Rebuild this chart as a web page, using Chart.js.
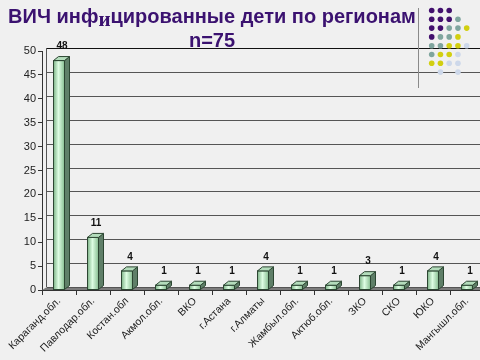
<!DOCTYPE html>
<html>
<head>
<meta charset="utf-8">
<script src="https://cdn.jsdelivr.net/npm/chart.js@4.4.0/dist/chart.umd.min.js"></script>
<style>
  html, body { margin: 0; padding: 0; background: #f0f0f0; overflow: hidden; }
  #wrap { position: relative; width: 480px; height: 360px; overflow: hidden; background: #f0f0f0; }
  #chart { position: absolute; left: 0; top: 0; }
  .title {
    position: absolute; left: 0; width: 424px; text-align: center; white-space: nowrap;
    font-family: "Liberation Sans", Arial, sans-serif; font-weight: bold; font-size: 20px;
    color: #3b1270; line-height: 24px; z-index: 2;
  }
  #t1 { top: 4px; }
  #t2 { top: 28px; }
  .title .odd { font-family: "Liberation Serif", serif; font-size: 21px; position: relative; top: 3px; }
</style>
</head>
<body>
<div id="wrap">
  <canvas id="chart" width="484" height="360"></canvas>
  <div class="title" id="t1">ВИЧ инф<span class="odd">и</span>цированные дети по регионам</div>
  <div class="title" id="t2">n=75</div>
</div>
<script>
const regions = [
  "Караганд.обл.", "Павлодар.обл.", "Костан.обл", "Акмол.обл.", "ВКО", "г.Астана",
  "г.Алматы", "Жамбыл.обл.", "Актюб.обл.", "ЗКО", "СКО", "ЮКО", "Мангышл.обл.",
];
const children = [48, 11, 4, 1, 1, 1, 4, 1, 1, 3, 1, 4, 1];
const yMax = 50;
const yStep = 5;

const DX = 5; // 3d depth to the right
const DY = -4; // 3d depth upwards

// back wall, grid lines and floor (under the bars)
const wallPlugin = {
  id: "wall",
  beforeDatasetsDraw(chart) {
    const { ctx, chartArea } = chart;
    const y = chart.scales.y;
    ctx.save();
    // floor
    ctx.fillStyle = "#7c7c7c";
    ctx.beginPath();
    ctx.moveTo(chartArea.left, chartArea.bottom);
    ctx.lineTo(chartArea.left + DX, chartArea.bottom + DY + 1);
    ctx.lineTo(chartArea.right + DX, chartArea.bottom + DY + 1);
    ctx.lineTo(chartArea.right, chartArea.bottom);
    ctx.closePath();
    ctx.fill();
    // grid on back wall
    ctx.lineWidth = 1;
    y.ticks.forEach((t) => {
      const py = Math.round(y.getPixelForValue(t.value) + DY + 1) + 0.5;
      ctx.strokeStyle = t.value === yMax ? "#111" : "#555";
      ctx.beginPath();
      ctx.moveTo(chartArea.left + DX, py);
      ctx.lineTo(chartArea.right + DX, py);
      ctx.stroke();
    });
    // left wall edge
    ctx.strokeStyle = "#555";
    ctx.beginPath();
    ctx.moveTo(chartArea.left + DX - 0.5, y.getPixelForValue(yMax) + DY + 1);
    ctx.lineTo(chartArea.left + DX - 0.5, chartArea.bottom + DY + 1);
    ctx.stroke();
    ctx.restore();
  },
};

// 3d faces, shading and value labels
const barPlugin = {
  id: "bars3d",
  afterDatasetsDraw(chart) {
    const { ctx } = chart;
    const meta = chart.getDatasetMeta(0);
    ctx.save();
    meta.data.forEach((bar, i) => {
      const { x, y, base, width } = bar.getProps(["x", "y", "base", "width"], true);
      const l = x - width / 2;
      const r = x + width / 2;
      // front shading
      const g = ctx.createLinearGradient(l, 0, r, 0);
      g.addColorStop(0, "rgba(120,175,130,0.9)");
      g.addColorStop(0.45, "rgba(225,255,230,0.9)");
      g.addColorStop(1, "rgba(130,185,140,0.9)");
      ctx.fillStyle = g;
      ctx.fillRect(l, y, width, base - y);
      ctx.strokeStyle = "#2c4632";
      ctx.lineWidth = 1;
      ctx.strokeRect(l, y, width, base - y);
      // side
      ctx.fillStyle = "#5f7f68";
      ctx.beginPath();
      ctx.moveTo(r, y);
      ctx.lineTo(r + DX, y + DY);
      ctx.lineTo(r + DX, base + DY);
      ctx.lineTo(r, base);
      ctx.closePath();
      ctx.fill();
      ctx.stroke();
      // top
      ctx.fillStyle = "#b3dcbb";
      ctx.beginPath();
      ctx.moveTo(l, y);
      ctx.lineTo(l + DX, y + DY);
      ctx.lineTo(r + DX, y + DY);
      ctx.lineTo(r, y);
      ctx.closePath();
      ctx.fill();
      ctx.stroke();
      // value label
      ctx.fillStyle = "#111";
      ctx.font = "bold 10px 'Liberation Sans', Arial, sans-serif";
      ctx.textAlign = "center";
      ctx.textBaseline = "middle";
      ctx.fillText(children[i], x + 3, y - 14);
    });
    ctx.restore();
  },
};

// template decoration in the top right corner
const decoPlugin = {
  id: "deco",
  afterDraw(chart) {
    const { ctx } = chart;
    const P = "#42106e", T = "#7fa59e", Y = "#d2cf10", B = "#cdd8ea";
    const rows = [
      [P, P, P],
      [P, P, P, T],
      [P, P, T, T, Y],
      [P, T, T, Y],
      [T, T, Y, Y, B],
      [T, Y, Y, B],
      [Y, Y, B, B],
      [null, B, null, B],
    ];
    ctx.save();
    ctx.strokeStyle = "#8a8a8a";
    ctx.lineWidth = 1;
    ctx.beginPath();
    ctx.moveTo(418.5, 8);
    ctx.lineTo(418.5, 88);
    ctx.stroke();
    rows.forEach((row, ri) => {
      row.forEach((c, ci) => {
        if (!c) return;
        ctx.fillStyle = c;
        ctx.beginPath();
        ctx.arc(431.7 + ci * 8.75, 10.5 + ri * 8.8, 2.8, 0, Math.PI * 2);
        ctx.fill();
      });
    });
    ctx.restore();
  },
};

const ctx = document.getElementById("chart").getContext("2d");
const myChart = new Chart(ctx, {
  type: "bar",
  data: {
    labels: regions,
    datasets: [
      {
        data: children,
        backgroundColor: "#bdeec7",
        borderColor: "#2c4632",
        borderWidth: 1,
        barThickness: 11,
      },
    ],
  },
  options: {
    responsive: false,
    animation: false,
    layout: { padding: { top: 51, left: 0, right: 0, bottom: 0 } },
    plugins: {
      legend: { display: false },
      title: { display: false },
      tooltip: { enabled: false },
    },
    scales: {
      x: {
        offset: true,
        grid: { drawOnChartArea: false, drawTicks: true, tickLength: 5, color: "#333", offset: true },
        border: { display: true, color: "#333" },
        ticks: {
          autoSkip: false,
          minRotation: 45,
          maxRotation: 45,
          color: "#222",
          padding: 0,
          font: { family: "'Liberation Sans', Arial, sans-serif", size: 10.5 },
        },
        afterFit: (scale) => {
          scale.height = 70;
          scale.paddingLeft = 0;
          scale.paddingRight = 0;
        },
      },
      y: {
        min: 0,
        max: yMax,
        ticks: {
          stepSize: yStep,
          color: "#222",
          padding: 2,
          font: { family: "'Liberation Sans', Arial, sans-serif", size: 11 },
        },
        grid: { drawOnChartArea: false, drawTicks: true, tickLength: 4, color: "#333" },
        border: { display: true, color: "#333" },
        afterFit: (scale) => {
          scale.width = 42;
        },
      },
    },
  },
  plugins: [wallPlugin, barPlugin, decoPlugin],
});
</script>
</body>
</html>
